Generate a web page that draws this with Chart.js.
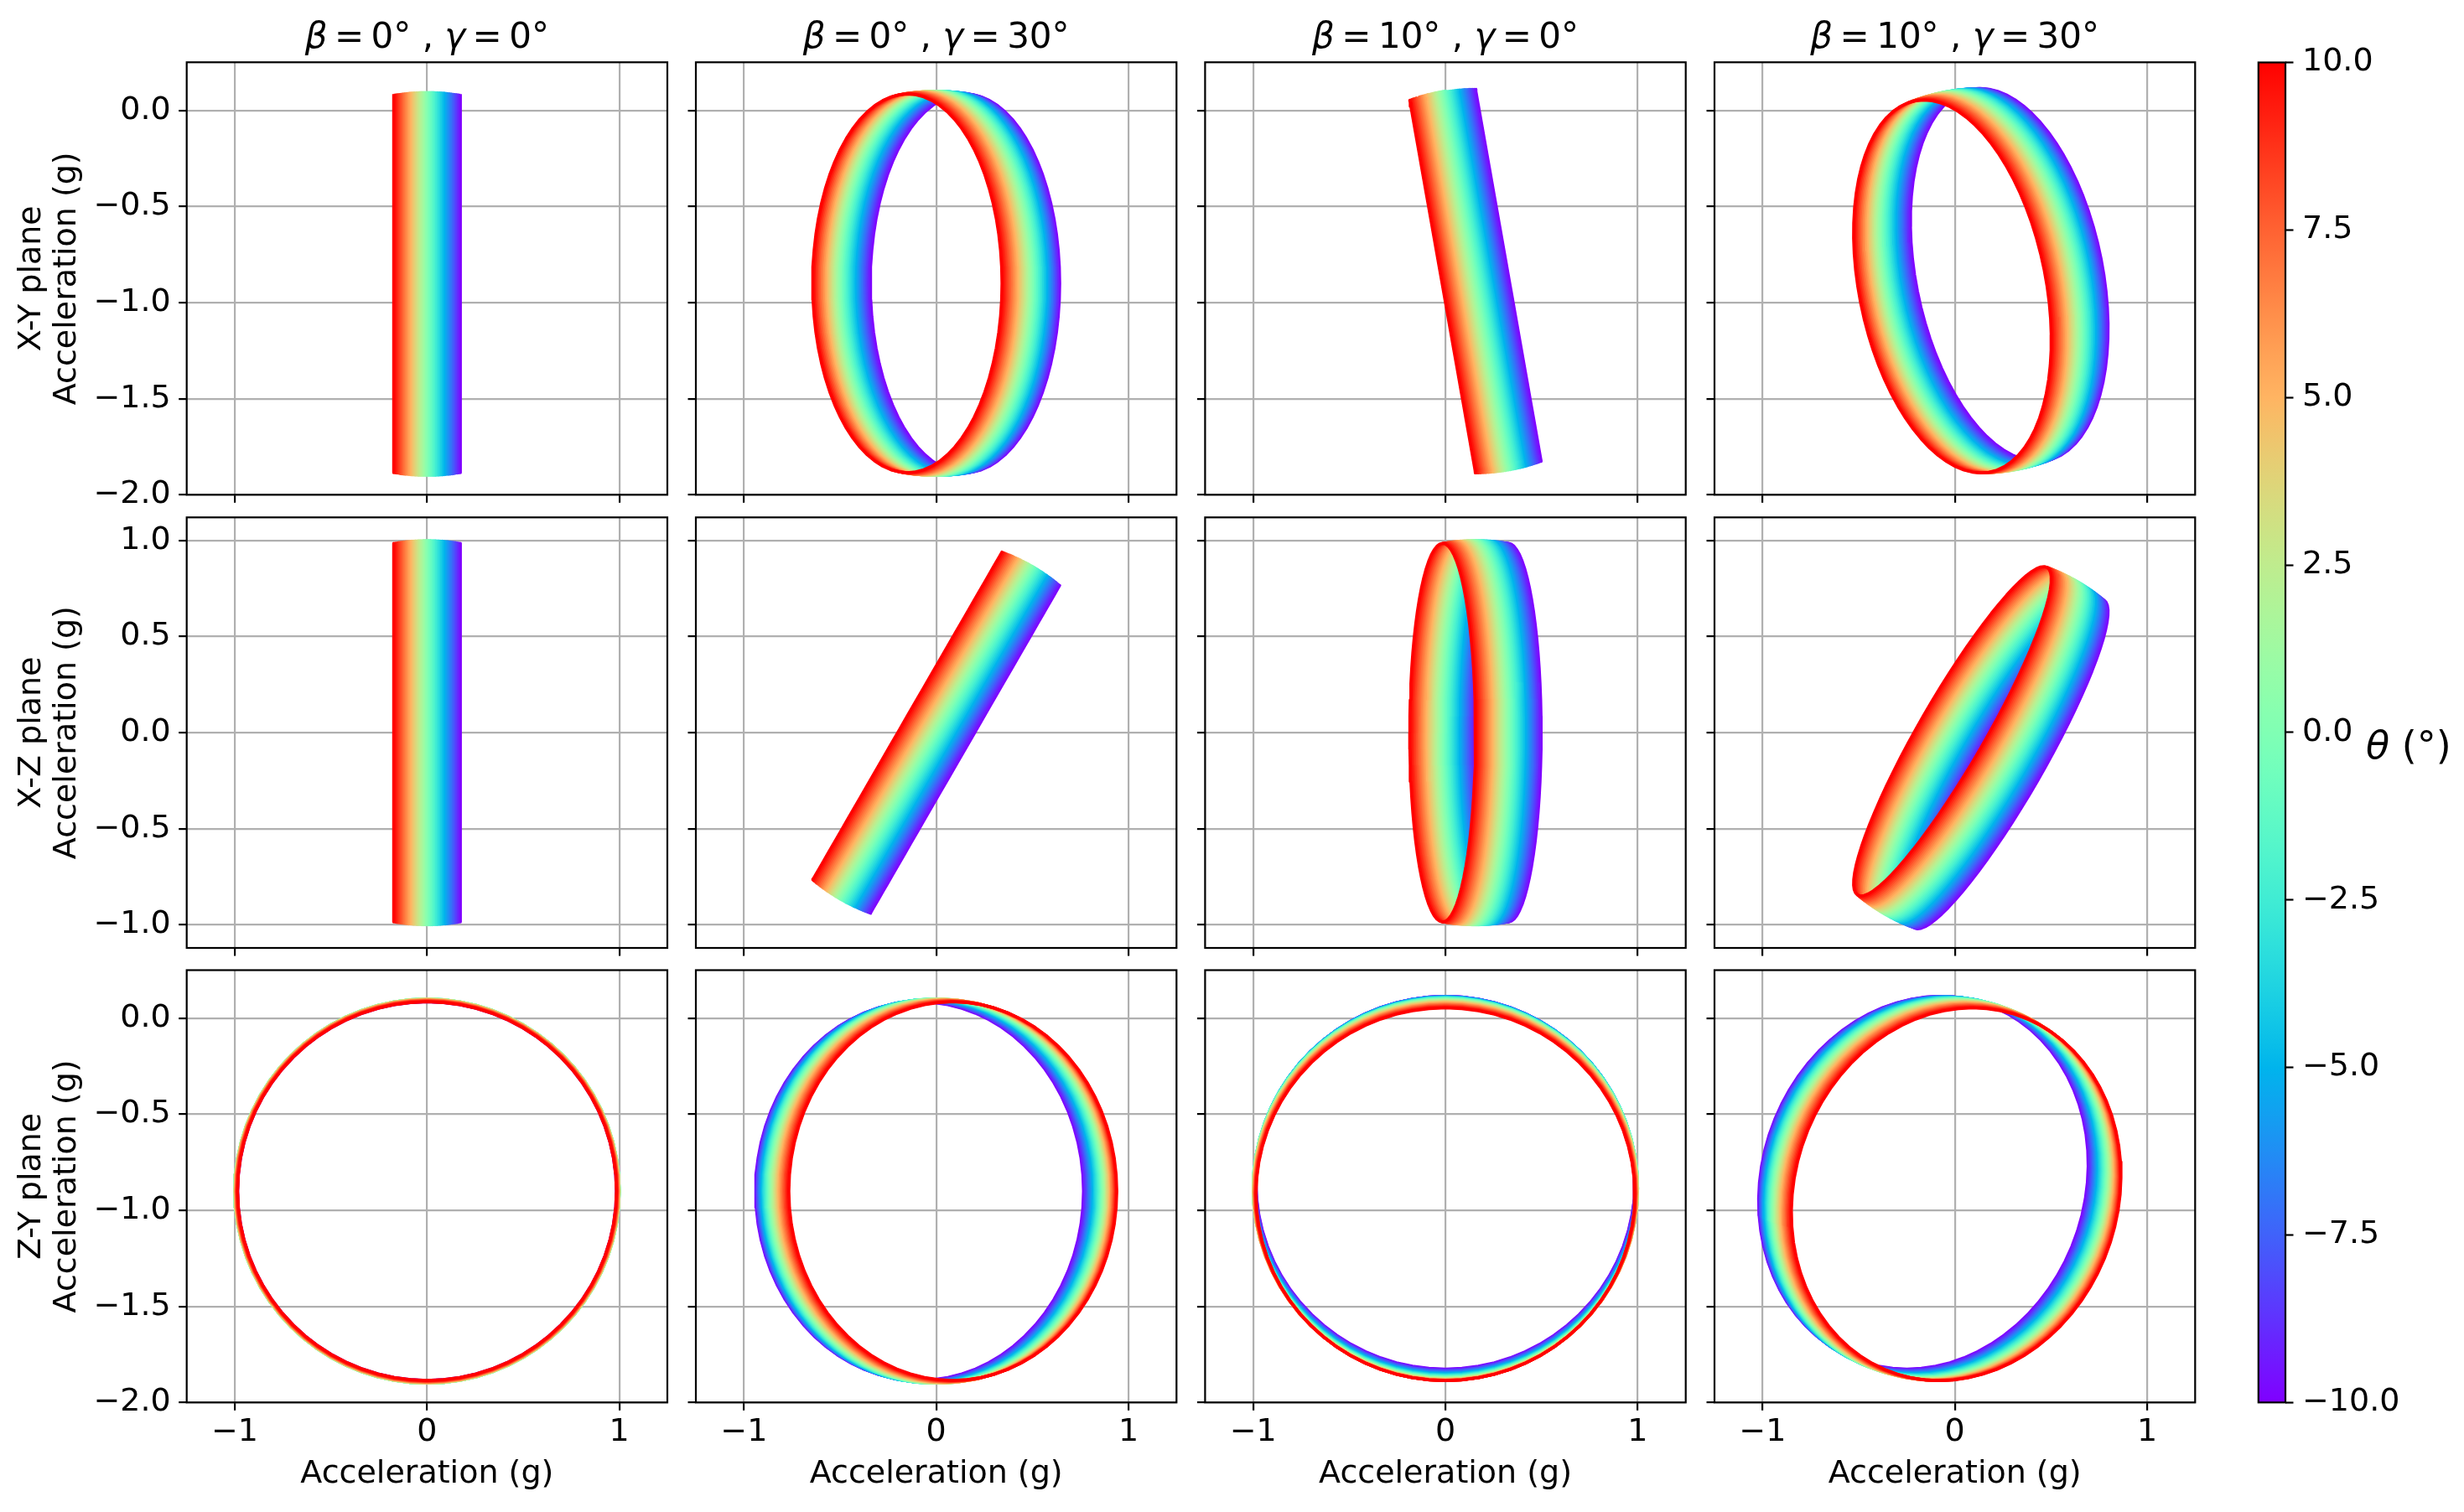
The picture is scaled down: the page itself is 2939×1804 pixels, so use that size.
<!DOCTYPE html>
<html>
<head>
<meta charset="utf-8">
<script src="https://cdn.jsdelivr.net/npm/chart.js@4.4.1/dist/chart.umd.min.js"></script>
<style>
html, body { margin: 0; padding: 0; background: #ffffff; }
#fig { position: relative; width: 2939px; height: 1804px; overflow: hidden; background: #ffffff; }
#fig canvas { position: absolute; }
</style>
</head>
<body>
<div id="fig"></div>
<script>
// ---------------- data ----------------
// tilt angle theta (deg) of each curve; first entry is drawn on top
const thetaDeg = [10, 9.5, 9, 8.5, 8, 7.5, 7, 6.5, 6, 5.5, 5, 4.5, 4, 3.5, 3, 2.5, 2, 1.5, 1, 0.5, 0,
  -0.5, -1, -1.5, -2, -2.5, -3, -3.5, -4, -4.5, -5, -5.5, -6, -6.5, -7, -7.5, -8, -8.5, -9, -9.5, -10];
// rotation angle phi (deg) sampled along each curve
const phiDeg = [0, 5, 10, 15, 20, 25, 30, 35, 40, 45, 50, 55, 60, 65, 70, 75, 80, 85, 90, 95, 100, 105,
  110, 115, 120, 125, 130, 135, 140, 145, 150, 155, 160, 165, 170, 175, 180, 185, 190, 195, 200, 205, 210,
  215, 220, 225, 230, 235, 240, 245, 250, 255, 260, 265, 270, 275, 280, 285, 290, 295, 300, 305, 310, 315,
  320, 325, 330, 335, 340, 345, 350, 355, 360];
// column parameters
const betaDeg = [0, 0, 10, 10];
const gammaDeg = [0, 30, 0, 30];
const colTitles = ['β=0° , γ=0°', 'β=0° , γ=30°', 'β=10° , γ=0°', 'β=10° , γ=30°'];
// constant offset of the Y acceleration (g)
const yOffsetG = -0.9;
// rows: plane names and plotted components
const planeNames = ['X-Y plane', 'X-Z plane', 'Z-Y plane'];
const planeAxes = [['X', 'Y'], ['X', 'Z'], ['Z', 'Y']];
// axis ranges and ticks
const xRange = [-1.25, 1.25];
const yRanges = [[-2.0, 0.25], [-1.12, 1.12], [-2.0, 0.25]];
const xTickValues = [-1, 0, 1];
const yTickValues = [[-2.0, -1.5, -1.0, -0.5, 0.0], [-1.0, -0.5, 0.0, 0.5, 1.0], [-2.0, -1.5, -1.0, -0.5, 0.0]];
const cbarTickValues = [-10, -7.5, -5, -2.5, 0, 2.5, 5, 7.5, 10];
const xAxisTitle = 'Acceleration (g)';
const yAxisTitle = 'Acceleration (g)';
const cbarLabelSymbol = 'θ';
const cbarLabelUnit = ' (°)';

// ---------------- layout (pixels) ----------------
const colLeft = [222.7, 830.0, 1437.4, 2045.0];
const panelW = 573.3;
const rowTop = [74.3, 617.3, 1157.5];
const rowBottom = [590.3, 1131.0, 1673.3];
const FIG_W = 2939, FIG_H = 1804;
const cbarRect = {left: 2693.8, right: 2726.0, top: 74.5, bottom: 1673.3};

const FONT = '"DejaVu Sans", sans-serif';
const TICK_SIZE = 38;
const TITLE_SIZE = 42;
const TITLE_BASELINE = 57;
const GRID_COLOR = '#b0b0b0';
const LW = 2.2;
const TICK_LEN = 9.5;
const CURVE_W = 3.5;

Chart.defaults.font.family = FONT;
Chart.defaults.font.size = TICK_SIZE;
Chart.defaults.color = '#000000';

// ---------------- helpers ----------------
const rad = d => d * Math.PI / 180;
function rainbow(t) {
  const r = Math.min(1, Math.abs(2 * t - 0.5));
  const g = Math.max(0, Math.sin(Math.PI * t));
  const b = Math.max(0, Math.cos(Math.PI * t / 2));
  return 'rgb(' + Math.round(r * 255) + ',' + Math.round(g * 255) + ',' + Math.round(b * 255) + ')';
}
const thetaMin = Math.min(...thetaDeg), thetaMax = Math.max(...thetaDeg);
const fmt1 = v => (v < 0 ? '\u2212' : '') + Math.abs(v).toFixed(1);
const fmt0 = v => (v < 0 ? '\u2212' : '') + Math.abs(v).toFixed(0);

// acceleration components for tilt theta, rotation phi, mounting angles beta (about Z) and gamma (about Y)
function accel(th, ph, be, ga) {
  const t = rad(th), p = rad(ph), b = rad(be), g = rad(ga);
  const X = -Math.sin(t);
  const Y = Math.cos(t) * Math.cos(p) + yOffsetG;
  const Z = Math.cos(t) * Math.sin(p);
  const X1 = X * Math.cos(b) - Y * Math.sin(b);
  const Y1 = X * Math.sin(b) + Y * Math.cos(b);
  const X2 = X1 * Math.cos(g) + Z * Math.sin(g);
  const Z2 = -X1 * Math.sin(g) + Z * Math.cos(g);
  return {X: X2, Y: Y1, Z: Z2};
}

const framePlugin = {
  id: 'frame',
  afterDraw(chart) {
    const a = chart.chartArea, ctx = chart.ctx;
    ctx.save();
    ctx.strokeStyle = '#000000';
    ctx.lineWidth = LW;
    ctx.strokeRect(a.left, a.top, a.right - a.left, a.bottom - a.top);
    ctx.restore();
  }
};

// panel title with italic Greek letters and math spacing around '='
const mathTitlePlugin = {
  id: 'mathTitle',
  afterDraw(chart, args, opts) {
    if (!opts || !opts.text) return;
    const ctx = chart.ctx, a = chart.chartArea;
    const size = opts.size, gap = 0.2 * size;
    const runs = [];
    for (const ch of opts.text) {
      const italic = /[α-ω]/.test(ch);
      runs.push({t: ch, italic, pad: ch === '=' ? gap : 0});
    }
    ctx.save();
    ctx.fillStyle = '#000000';
    ctx.textBaseline = 'alphabetic';
    ctx.textAlign = 'left';
    let total = 0;
    for (const r of runs) {
      ctx.font = (r.italic ? 'italic ' : 'normal ') + size + 'px ' + FONT;
      r.w = ctx.measureText(r.t).width;
      total += r.w + 2 * r.pad;
    }
    let x = (a.left + a.right) / 2 - total / 2;
    for (const r of runs) {
      ctx.font = (r.italic ? 'italic ' : 'normal ') + size + 'px ' + FONT;
      x += r.pad;
      ctx.fillText(r.t, x, opts.baseline);
      x += r.w + r.pad;
    }
    ctx.restore();
  }
};

const fig = document.getElementById('fig');
function addCanvas(l, t, w, h) {
  const cv = document.createElement('canvas');
  cv.width = w; cv.height = h;
  cv.style.left = l + 'px'; cv.style.top = t + 'px';
  cv.style.width = w + 'px'; cv.style.height = h + 'px';
  fig.appendChild(cv);
  return cv;
}
function zeroPad(s) { s.paddingLeft = 0; s.paddingRight = 0; s.paddingTop = 0; s.paddingBottom = 0; }

// ---------------- panels ----------------
for (let r = 0; r < 3; r++) {
  for (let c = 0; c < 4; c++) {
    const pl = colLeft[c], pr = colLeft[c] + panelW, pt = rowTop[r], pb = rowBottom[r];
    const cl = c === 0 ? 0 : Math.floor(pl) - 14;
    const cr = Math.ceil(pr) + 6;
    const ct = r === 0 ? 0 : Math.floor(pt) - 6;
    const cb = r === 2 ? FIG_H : Math.ceil(pb) + 14;
    const yW = pl - cl, xH = cb - pb;
    const cv = addCanvas(cl, ct, cr - cl, cb - ct);

    const datasets = thetaDeg.map(th => ({
      data: phiDeg.map(ph => {
        const a = accel(th, ph, betaDeg[c], gammaDeg[c]);
        return {x: a[planeAxes[r][0]], y: a[planeAxes[r][1]]};
      }),
      borderColor: rainbow((th - thetaMin) / (thetaMax - thetaMin)),
      backgroundColor: 'rgba(0,0,0,0)',
      borderWidth: CURVE_W,
      borderJoinStyle: 'round',
      showLine: true,
      pointRadius: 0,
      pointHoverRadius: 0,
      fill: false,
      tension: 0
    }));

    new Chart(cv, {
      type: 'scatter',
      data: {datasets},
      plugins: [framePlugin, mathTitlePlugin],
      options: {
        responsive: false,
        devicePixelRatio: 1,
        animation: false,
        events: [],
        layout: {autoPadding: false, padding: {left: 0, right: cr - pr, top: pt - ct, bottom: 0}},
        plugins: {
          legend: {display: false},
          tooltip: {enabled: false},
          title: {display: false},
          mathTitle: r === 0 ? {text: colTitles[c], size: TITLE_SIZE, baseline: TITLE_BASELINE} : {text: ''}
        },
        scales: {
          x: {
            type: 'linear',
            position: 'bottom',
            min: xRange[0], max: xRange[1],
            afterBuildTicks: s => { s.ticks = xTickValues.map(v => ({value: v})); },
            afterFit: s => { s.height = xH; zeroPad(s); },
            border: {display: false},
            grid: {color: GRID_COLOR, lineWidth: LW, tickColor: '#000000', tickWidth: LW, tickLength: TICK_LEN, drawTicks: true},
            ticks: {
              padding: 4, maxRotation: 0, minRotation: 0, autoSkip: false,
              font: {size: TICK_SIZE, lineHeight: 1.2}, color: '#000000',
              callback: v => (r === 2 ? fmt0(v) : '')
            },
            title: {
              display: r === 2, text: xAxisTitle, color: '#000000',
              font: {size: TICK_SIZE, lineHeight: 1.2}, padding: {top: 0, bottom: 22}
            }
          },
          y: {
            type: 'linear',
            position: 'left',
            min: yRanges[r][0], max: yRanges[r][1],
            afterBuildTicks: s => { s.ticks = yTickValues[r].map(v => ({value: v})); },
            afterFit: s => { s.width = yW; zeroPad(s); },
            border: {display: false},
            grid: {color: GRID_COLOR, lineWidth: LW, tickColor: '#000000', tickWidth: LW, tickLength: TICK_LEN, drawTicks: true},
            ticks: {
              padding: 9.5, autoSkip: false,
              font: {size: TICK_SIZE, lineHeight: 1.2}, color: '#000000',
              callback: v => (c === 0 ? fmt1(v) : '')
            },
            title: {
              display: c === 0, text: [planeNames[r], yAxisTitle], color: '#000000',
              font: {size: TICK_SIZE, lineHeight: 1.1}, padding: {top: 17, bottom: 0}
            }
          }
        }
      }
    });
  }
}

// ---------------- colorbar ----------------
(function () {
  const cl = 2680, ct = 0, cw = FIG_W - cl, ch = FIG_H;
  const cv = addCanvas(cl, ct, cw, ch);
  const labelPlugin = {
    id: 'cbarLabel',
    afterDraw(chart) {
      const ctx = chart.ctx, a = chart.chartArea;
      const y0 = chart.scales.y.getPixelForValue(0);
      ctx.save();
      ctx.fillStyle = '#000000';
      ctx.textBaseline = 'alphabetic';
      ctx.textAlign = 'left';
      let x = a.right + 96;
      const yb = y0 + 31;
      ctx.font = 'italic 46px ' + FONT;
      ctx.fillText(cbarLabelSymbol, x, yb);
      x += ctx.measureText(cbarLabelSymbol).width;
      ctx.font = 'normal 46px ' + FONT;
      ctx.fillText(cbarLabelUnit, x, yb);
      ctx.restore();
    }
  };
  new Chart(cv, {
    type: 'bar',
    data: {
      labels: [''],
      datasets: [{
        data: [[thetaMin, thetaMax]],
        borderWidth: 0,
        barPercentage: 1,
        categoryPercentage: 1,
        backgroundColor: (ctx) => {
          const area = ctx.chart.chartArea;
          if (!area) return 'rgba(0,0,0,0)';
          const grad = ctx.chart.ctx.createLinearGradient(0, area.bottom, 0, area.top);
          const n = 64;
          for (let i = 0; i <= n; i++) grad.addColorStop(i / n, rainbow(i / n));
          return grad;
        }
      }]
    },
    plugins: [framePlugin, labelPlugin],
    options: {
      responsive: false,
      devicePixelRatio: 1,
      animation: false,
      events: [],
      layout: {autoPadding: false, padding: {left: cbarRect.left - cl, right: 0, top: cbarRect.top - ct, bottom: ch - cbarRect.bottom}},
      plugins: {legend: {display: false}, tooltip: {enabled: false}, title: {display: false}},
      scales: {
        x: {display: false},
        y: {
          position: 'right',
          min: thetaMin, max: thetaMax,
          afterBuildTicks: s => { s.ticks = cbarTickValues.map(v => ({value: v})); },
          afterFit: s => { s.width = cw - (cbarRect.right - cl); zeroPad(s); },
          border: {display: false},
          grid: {drawOnChartArea: false, drawTicks: true, tickColor: '#000000', tickWidth: LW, tickLength: TICK_LEN},
          ticks: {padding: 10.5, autoSkip: false, font: {size: TICK_SIZE, lineHeight: 1.2}, color: '#000000', callback: v => fmt1(v)}
        }
      }
    }
  });
})();
</script>
</body>
</html>
